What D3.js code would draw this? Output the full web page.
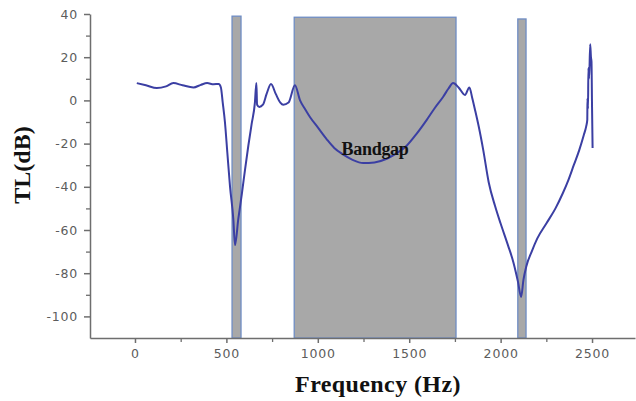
<!DOCTYPE html>
<html>
<head>
<meta charset="utf-8">
<script src="https://cdn.jsdelivr.net/npm/d3@7"></script>
<style>
    body { margin: 0; background: #fff; }
    .axis path, .axis line { stroke: #6e6e6e; stroke-width: 1.5; }
    .axis text { font-family: "DejaVu Sans", sans-serif; font-size: 12.5px; fill: #5c5c5c; letter-spacing: 0.8px; }
    .minor path { display: none; }
    .minor line { stroke: #6e6e6e; stroke-width: 1.3; }
    .axisTitle { font-family: "Liberation Serif", "Times New Roman", serif; font-weight: bold; font-size: 24px; fill: #111; }
    .bandLabel { font-family: "Liberation Serif", "Times New Roman", serif; font-weight: bold; font-size: 18px; fill: #111; }
</style>
</head>
<body>
<script>
(function(){

    //curve: frequency (Hz) and transmission loss (dB)
    var freq = [10, 60, 120, 170, 210, 260, 320, 360, 395, 430, 458, 470, 480, 492, 505, 520, 538, 547,
        565, 585, 602, 620, 638, 656, 664, 668, 680, 700, 720, 744, 770, 795, 811, 840, 875,
        903, 930, 957, 1000, 1049, 1090, 1138, 1190, 1248, 1310, 1377, 1430, 1486, 1540, 1596, 1640, 1686, 1715, 1740,
        1770, 1805, 1829, 1845, 1860, 1880, 1905, 1935, 1970, 2000, 2040, 2070, 2095, 2112,
        2125, 2140, 2170, 2200, 2250, 2300, 2340, 2370, 2400, 2430, 2455, 2468,
        2474, 2475, 2478, 2480, 2484, 2490, 2494, 2497, 2500, 2503];
    var tl = [8, 7, 5.7, 6.5, 8, 7, 6, 7.2, 8, 7.5, 7.6, 6, -1, -10, -24, -40, -55, -67,
        -55, -43, -32, -21, -11, -1, 8, -2, -3, -2, 3, 7.6, 3, -1, -2, -1, 7,
        0, -4, -7.7, -12.5, -18, -22, -25, -27.5, -29, -28.7, -27, -24.5, -21, -15.5, -9, -3.5, 1.7, 5.5, 8,
        6, 2.5, 6, 1, -4.4, -12, -23, -38, -49, -57, -67, -75, -84, -91,
        -83, -77, -70, -64, -57, -50, -43, -37, -30, -23, -16, -12,
        -9, 1, -4, 15, 10, 26, 20, 18, -3, -22];

    //shaded bands: start, end and top (dB)
    var bandStart = [531, 871, 2094];
    var bandEnd = [580, 1756, 2139];
    var bandTop = [39, 38.5, 37.7];
    var bandText = "Bandgap";

    //tick values
    var xTicks = [0, 500, 1000, 1500, 2000, 2500];
    var xMinor = [250, 750, 1250, 1750, 2250];
    var yTicks = [-100, -80, -60, -40, -20, 0, 20, 40];
    var yMinor = [-90, -70, -50, -30, -10, 10, 30];

    var width = 636,
        height = 401;

    var svg = d3.select("body")
        .append("svg")
        .attr("width", width)
        .attr("height", height);

    var x = d3.scaleLinear()
        .domain([-246, 2735])
        .range([90, 635]);

    var y = d3.scaleLinear()
        .domain([-110, 40])
        .range([338, 14]);

    //bands go under the curve
    svg.selectAll(".band")
        .data(bandStart)
        .enter()
        .append("rect")
        .attr("class", "band")
        .attr("x", function(d){ return x(d); })
        .attr("width", function(d, i){ return x(bandEnd[i]) - x(d); })
        .attr("y", function(d, i){ return y(bandTop[i]); })
        .attr("height", function(d, i){ return y(-110) - y(bandTop[i]); })
        .style("fill", "#a8a8a8")
        .style("stroke", "#6f8dc4")
        .style("stroke-width", 1.3);

    var points = freq.map(function(f, i){ return [f, tl[i]]; });

    var line = d3.line()
        .x(function(d){ return x(d[0]); })
        .y(function(d){ return y(d[1]); })
        .curve(d3.curveMonotoneX);

    svg.append("path")
        .datum(points)
        .attr("d", line)
        .style("fill", "none")
        .style("stroke", "#3b3fa3")
        .style("stroke-width", 2)
        .style("stroke-linejoin", "round");

    svg.append("text")
        .attr("class", "bandLabel")
        .attr("x", x(1130))
        .attr("y", y(-25.5))
        .attr("letter-spacing", "-0.3")
        .text(bandText);

    //minor ticks
    svg.append("g")
        .attr("class", "axis minor")
        .attr("transform", "translate(0," + y(-110) + ")")
        .call(d3.axisBottom(x).tickValues(xMinor).tickSize(4).tickFormat(""));

    svg.append("g")
        .attr("class", "axis minor")
        .attr("transform", "translate(" + x(-246) + ",0)")
        .call(d3.axisLeft(y).tickValues(yMinor).tickSize(4).tickFormat(""));

    //main axes
    svg.append("g")
        .attr("class", "axis")
        .attr("transform", "translate(0," + y(-110) + ")")
        .call(d3.axisBottom(x)
            .tickValues(xTicks)
            .tickSizeInner(5)
            .tickSizeOuter(0)
            .tickPadding(6)
            .tickFormat(function(d){ return String(d); }));

    svg.append("g")
        .attr("class", "axis")
        .attr("transform", "translate(" + x(-246) + ",0)")
        .call(d3.axisLeft(y)
            .tickValues(yTicks)
            .tickSizeInner(6)
            .tickSizeOuter(0)
            .tickPadding(6)
            .tickFormat(function(d){ return String(d); }));

    //axis titles
    svg.append("text")
        .attr("class", "axisTitle")
        .attr("x", 378)
        .attr("y", 392)
        .attr("text-anchor", "middle")
        .attr("letter-spacing", "0.4")
        .text("Frequency (Hz)");

    svg.append("text")
        .attr("class", "axisTitle")
        .attr("transform", "translate(30,165) rotate(-90)")
        .attr("text-anchor", "middle")
        .text("TL(dB)");

})();
</script>
</body>
</html>
